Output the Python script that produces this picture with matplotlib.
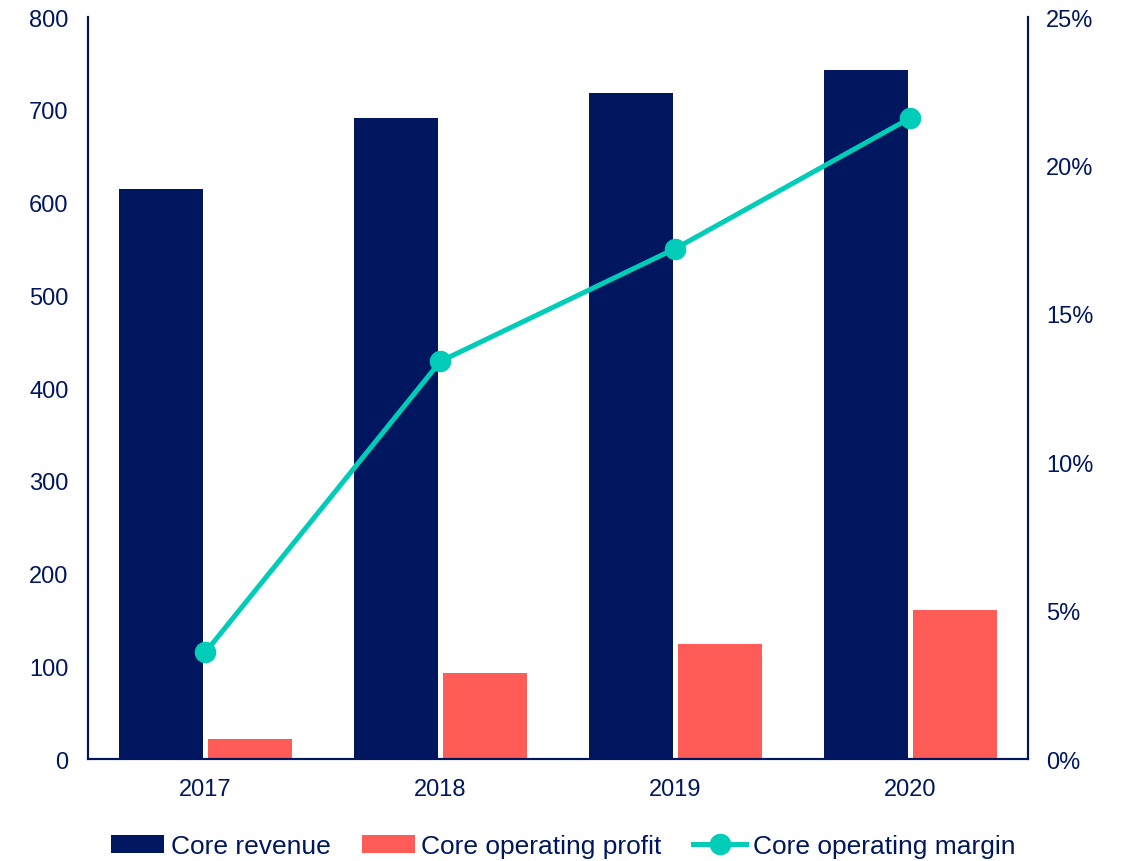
import matplotlib.pyplot as plt
import numpy as np
from matplotlib.ticker import FuncFormatter

plt.rcParams.update({
    'font.family': ['Liberation Sans', 'DejaVu Sans'],
})

years = ["2017", "2018", "2019", "2020"]
core_revenue = [615, 691, 718, 743]
core_profit = [22, 93, 124, 161]
core_margin = [3.6, 13.4, 17.2, 21.6]

navy = "#00175F"
coral = "#FF5C57"
teal = "#00CCB8"

fig = plt.figure(figsize=(11.22, 8.62), dpi=100)
ax1 = fig.add_axes([0.0784, 0.1183, 0.8378, 0.8608])
ax2 = ax1.twinx()

x = np.arange(len(years))
w = 0.355
b1 = ax1.bar(x - 0.19, core_revenue, w, color=navy, label="Core revenue", zorder=2)
b2 = ax1.bar(x + 0.19, core_profit, w, color=coral, label="Core operating profit", zorder=2)
l1, = ax2.plot(x, core_margin, color=teal, lw=3.6, marker='o', markersize=14.5,
               label="Core operating margin", zorder=3)

ax1.set_xlim(-0.5, 3.5)
ax1.set_ylim(0, 800)
ax2.set_ylim(0, 25)
ax1.set_yticks(range(0, 801, 100))
ax2.set_yticks(range(0, 26, 5))
ax2.yaxis.set_major_formatter(FuncFormatter(lambda v, p: "%d%%" % v))
ax1.set_xticks(x, years)

for ax in (ax1, ax2):
    ax.spines['top'].set_visible(False)
    for s in ('left', 'right', 'bottom'):
        ax.spines[s].set_color(navy)
        ax.spines[s].set_linewidth(1.5)
    ax.tick_params(length=0, labelsize=17, colors=navy)
ax1.tick_params(axis='y', pad=14)
ax1.tick_params(axis='x', pad=14)
ax2.tick_params(axis='y', pad=13)

leg = fig.legend(handles=[b1, b2, l1], loc="center", bbox_to_anchor=(0.502, 0.0174),
                 ncol=3, frameon=False, fontsize=19, handlelength=2.0,
                 handletextpad=0.25, columnspacing=1.2)
for t in leg.get_texts():
    t.set_color(navy)

plt.savefig("out.png", dpi=100)
